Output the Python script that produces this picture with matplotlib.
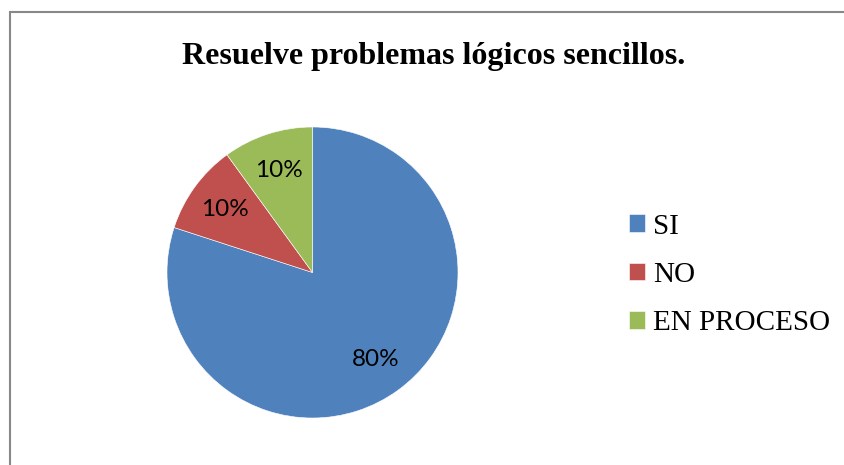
import matplotlib

matplotlib.use("Agg")

import matplotlib.pyplot as plt
from matplotlib.patches import Rectangle

TITLE = "Resuelve problemas lógicos sencillos."
CATEGORIES = ["SI", "NO", "EN PROCESO"]
SHARES = [80, 10, 10]
COLORS = ["#4F81BD", "#C0504D", "#9BBB59"]

W, H = 844, 465

fig = plt.figure(figsize=(W / 100, H / 100), dpi=100)
fig.patch.set_facecolor("white")

# chart frame (clipped at right and bottom like the source)
fig.patches.append(
    Rectangle(
        (10 / W, -0.1),
        1.2,
        1.1 - 12 / H,
        transform=fig.transFigure,
        fill=False,
        edgecolor="#888888",
        linewidth=1.5,
    )
)

ax = fig.add_axes([167 / W, 47 / H, 291 / W, 291 / H])
wedges, texts, autotexts = ax.pie(
    SHARES,
    colors=COLORS,
    startangle=90,
    counterclock=False,
    autopct="%d%%",
    pctdistance=0.74,
    radius=1.0,
    wedgeprops={"edgecolor": "white", "linewidth": 0.4},
    textprops={"family": "Lato", "fontsize": 17.5, "color": "black"},
)
ax.set_xlim(-1, 1)
ax.set_ylim(-1, 1)
ax.set_aspect("equal")
ax.axis("off")

fig.text(
    434 / W,
    1 - 64 / H,
    TITLE,
    ha="center",
    va="baseline",
    family="Liberation Serif",
    fontweight="bold",
    fontsize=23,
)

fig.legend(
    wedges,
    CATEGORIES,
    loc="center left",
    bbox_to_anchor=(629 / W, 1 - 275 / H),
    frameon=False,
    prop={"family": "Liberation Serif", "size": 21},
    handlelength=0.55,
    handleheight=0.55,
    handletextpad=0.27,
    labelspacing=0.77,
    borderpad=0,
    borderaxespad=0,
)

fig.savefig("out.png", dpi=100, facecolor=fig.get_facecolor())
